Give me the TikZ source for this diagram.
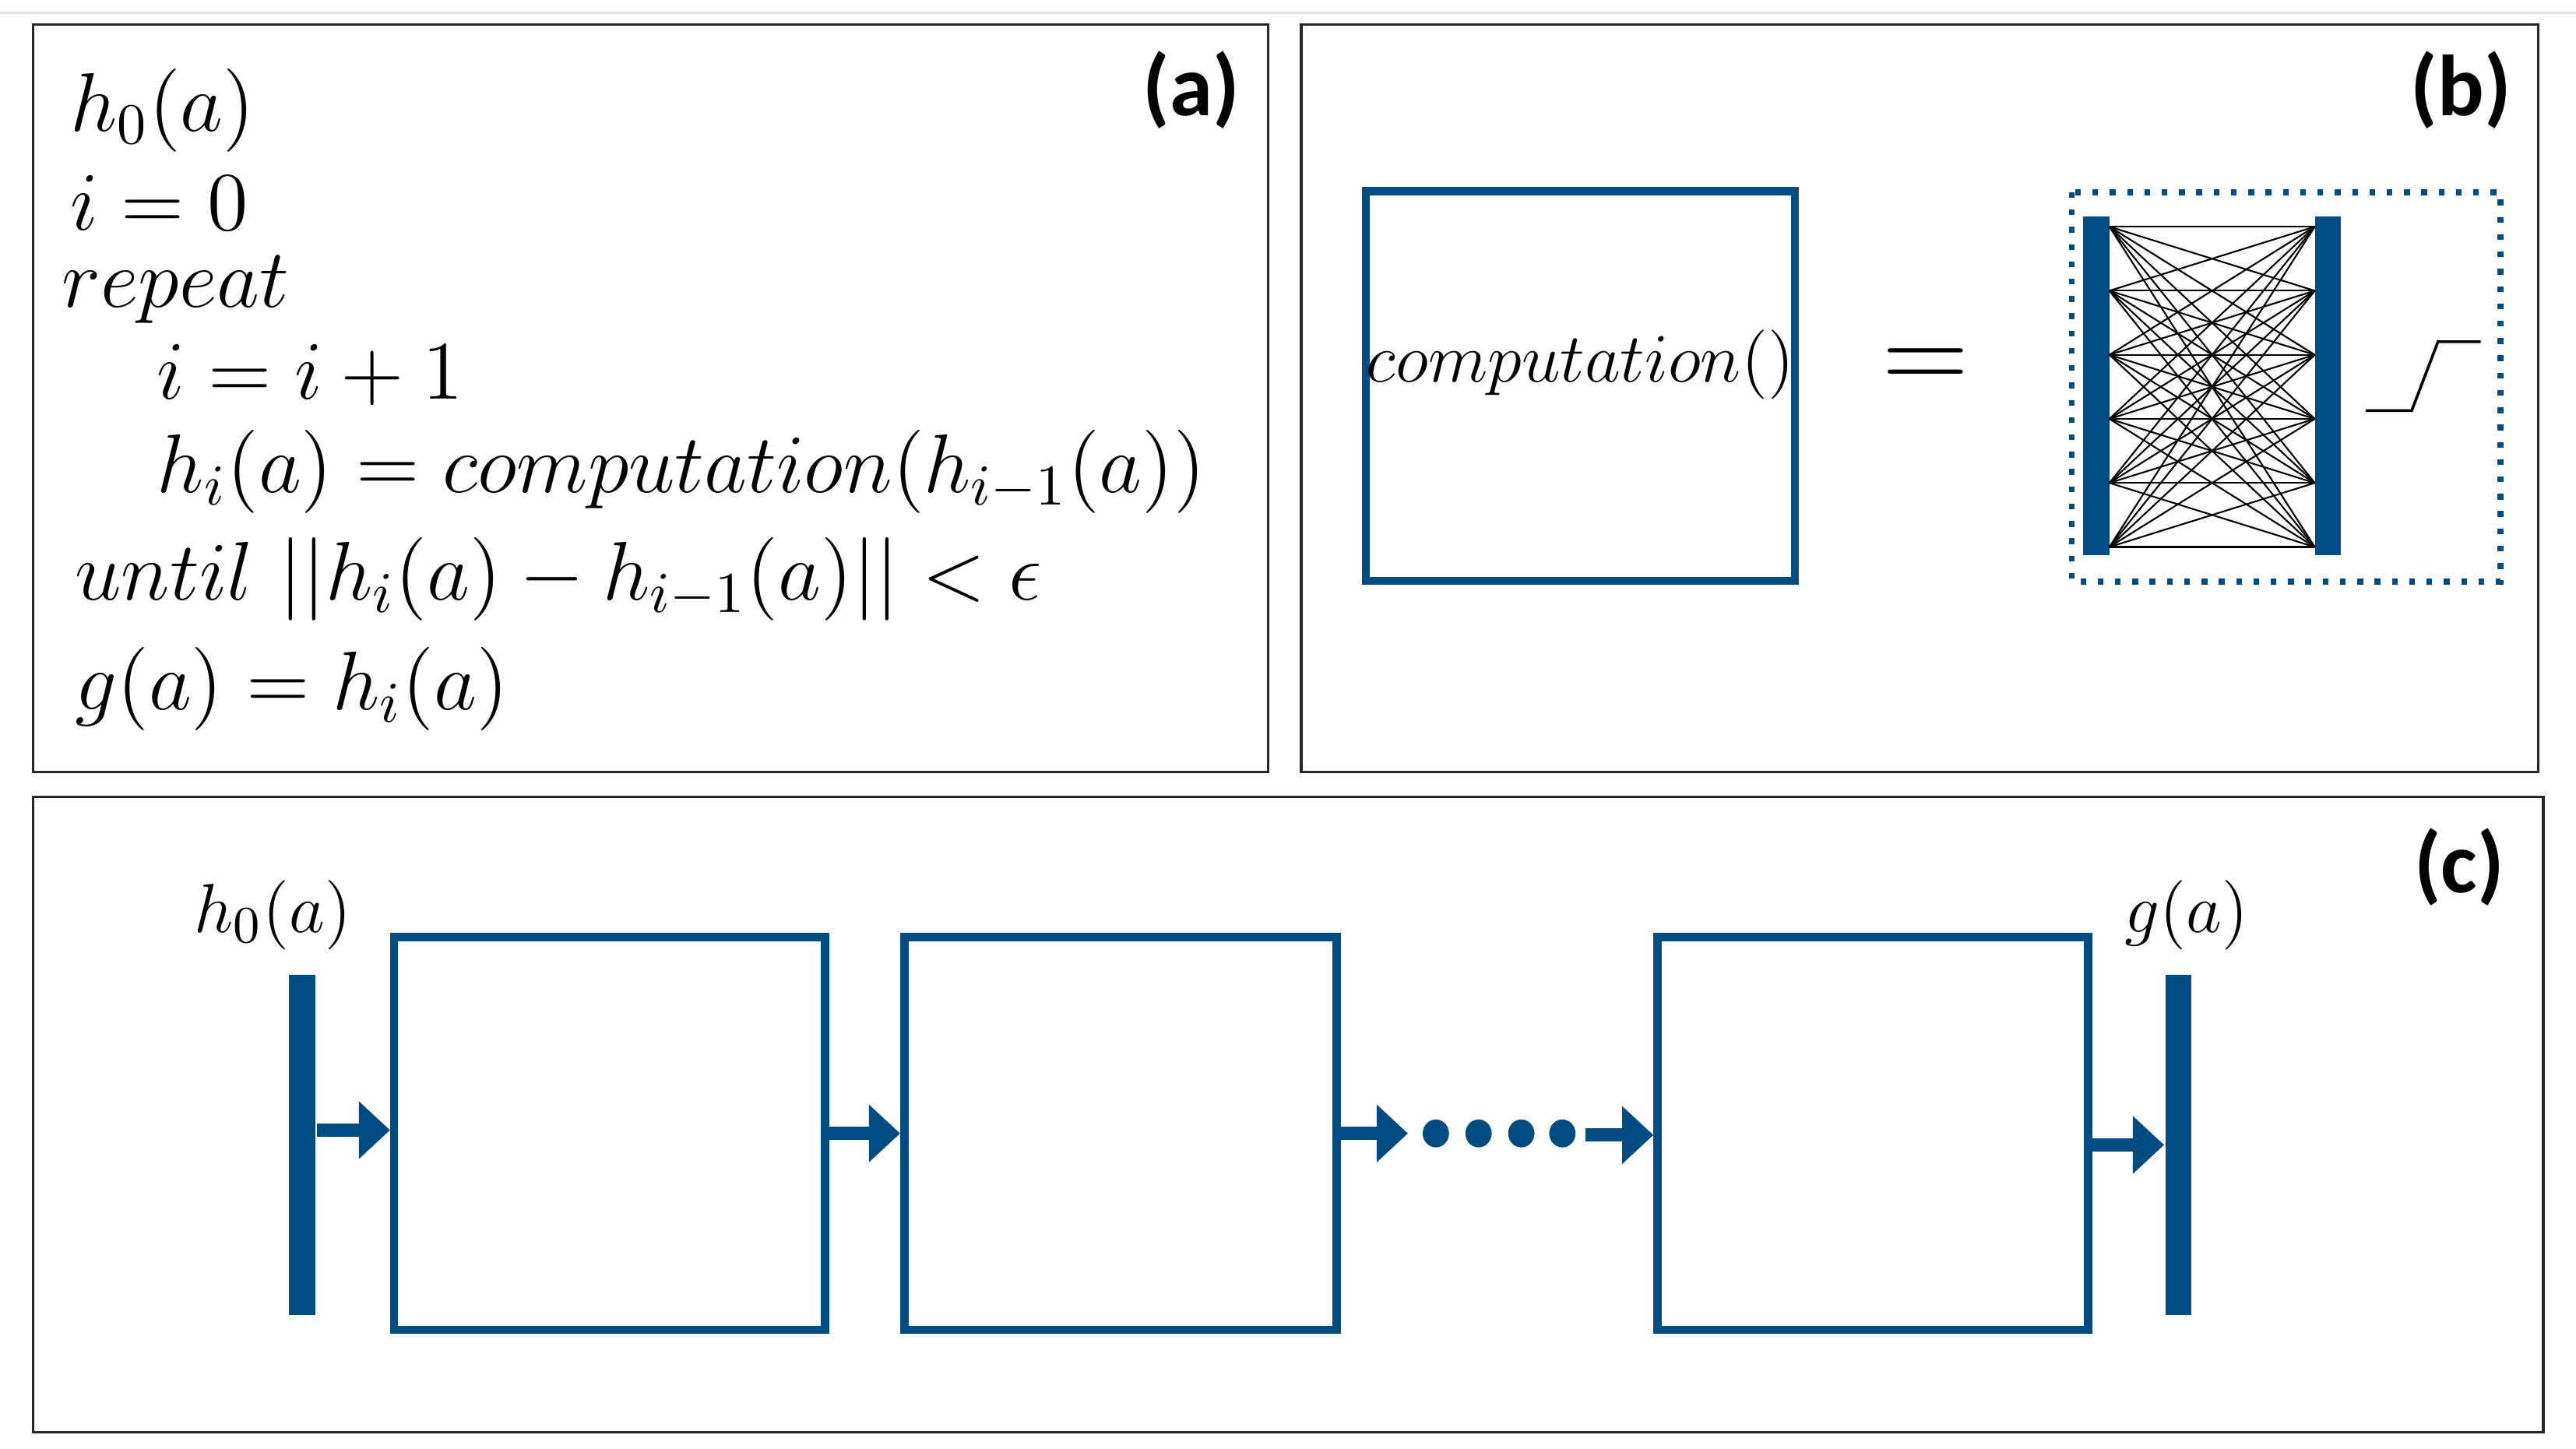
\documentclass[tikz,border=0pt]{standalone}
\usepackage{fontspec}
\newfontfamily\lab{Carlito}
\usetikzlibrary{arrows.meta,shapes.geometric}
\definecolor{db}{RGB}{0,75,128}
\begin{document}
\begin{tikzpicture}[x=0.01cm,y=-0.01cm,
  panel/.style={draw=black!85,line width=0.016cm},
  blk/.style={draw=db,line width=0.05cm},
  bar/.style={fill=db,draw=none},
  lbl/.style={font=\lab\bfseries\fontsize{15}{18}\selectfont},
  mt/.style={anchor=base west,inner sep=0,font=\fontsize{13.9}{17}\selectfont},
  arr/.style={draw=db,line width=0.08cm,-{Triangle[length=0.19cm,width=0.34cm]}}]
\useasboundingbox (0,0) rectangle (1568,882);
\draw[black!12,line width=0.015cm] (0,8) -- (1568,8);
% panels
\draw[panel] (20,15) rectangle (772,470);
\draw[panel] (792,15) rectangle (1545,470);
\draw[panel] (20,485) rectangle (1548,872);
\node[lbl] (la) at (725,55) {(a)};
\node[lbl] (lb) at (1498,55) {(b)};
\node[lbl] (lc) at (1497,528) {(c)};
% (a)
\node[mt] (t1) at (42,80) {$h_0(a)$};
\node[mt] (t2) at (42,140) {$i=0$};
\node[mt] (t3) at (37,187) {$repeat$};
\node[mt] (t4) at (95,243) {$i=i+1$};
\node[mt] (t5) at (95,300) {$h_i(a)=computation(h_{i-1}(a))$};
\node[mt] (t6) at (45,365) {$until\ ||h_i(a)-h_{i-1}(a)||<\epsilon$};
\node[mt] (t7) at (45,432) {$g(a)=h_i(a)$};
% (b)
\node[blk,minimum width=2.61cm,minimum height=2.37cm,inner sep=0] (comp) at (962,235) {};
\node[inner sep=0,font=\fontsize{11.5}{14}\selectfont] (ct) at (962,222) {$computation()$};
\node[inner sep=0,font=\fontsize{20}{22}\selectfont] (eq) at (1172,225) {$=$};
\draw[db,line width=0.035cm,dotted] (1261,117) rectangle (1522,354);
\node[bar,minimum width=0.16cm,minimum height=2.06cm,inner sep=0] (l1) at (1276,235) {};
\node[bar,minimum width=0.16cm,minimum height=2.06cm,inner sep=0] (l2) at (1417,235) {};
\foreach \i in {0,...,5}{
  \coordinate (a\i) at (1284,{138+39*\i});
  \coordinate (b\i) at (1409,{138+39*\i});}
\foreach \i in {0,...,5}{\foreach \j in {0,...,5}{\draw[black,line width=0.01cm] (a\i) -- (b\j);}}
\draw[black,line width=0.017cm] (1440,250) -- (1468,250) -- (1484,208) -- (1510,208);
% (c)
\node[inner sep=0,font=\fontsize{13}{16}\selectfont] (h0) at (166,557) {$h_0(a)$};
\node[inner sep=0,font=\fontsize{13}{16}\selectfont] (ga) at (1331,557) {$g(a)$};
\node[bar,minimum width=0.16cm,minimum height=2.07cm,inner sep=0] (in) at (184,697) {};
\node[bar,minimum width=0.16cm,minimum height=2.07cm,inner sep=0] (out) at (1326,697) {};
\node[blk,minimum width=2.62cm,minimum height=2.39cm,inner sep=0] (c1) at (371,690) {};
\node[blk,minimum width=2.63cm,minimum height=2.39cm,inner sep=0] (c2) at (682,690) {};
\node[blk,minimum width=2.62cm,minimum height=2.39cm,inner sep=0] (c3) at (1140,690) {};
\foreach \x/\n in {874/d1,900/d2,926/d3,951/d4}{\node[fill=db,ellipse,minimum width=0.16cm,minimum height=0.17cm,inner sep=0] (\n) at (\x,690) {};}
\draw[arr] (in.east |- 0,688) -- (c1.west |- 0,688);
\draw[arr] (c1.east |- 0,690) -- (c2.west |- 0,690);
\draw[arr] (c2.east |- 0,690) -- (857,690);
\draw[arr] (965,691) -- (c3.west |- 0,691);
\draw[arr] (c3.east |- 0,697) -- (out.west |- 0,697);
\end{tikzpicture}
\end{document}
